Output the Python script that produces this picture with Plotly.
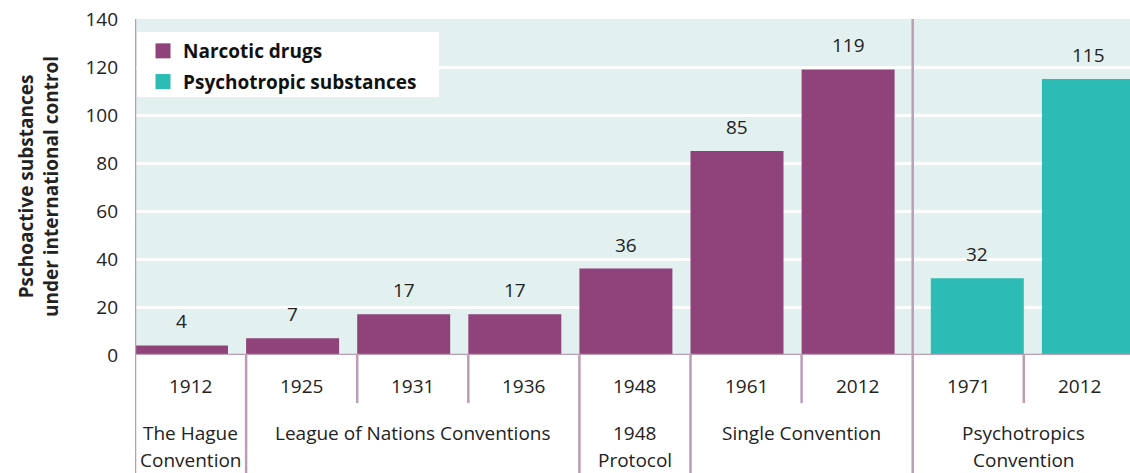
import plotly.graph_objects as go

# ---- data -------------------------------------------------------------
narcotic_years = ["1912", "1925", "1931", "1936", "1948", "1961", "2012"]
narcotic_counts = [4, 7, 17, 17, 36, 85, 119]

psychotropic_years = ["1971", "2012"]
psychotropic_counts = [32, 115]

treaty_names = [
    "The Hague<br>Convention",
    "League of Nations Conventions",
    "1948<br>Protocol",
    "Single Convention",
    "Psychotropics<br>Convention",
]
treaty_slot_counts = [1, 3, 1, 2, 2]

y_ticks = [0, 20, 40, 60, 80, 100, 120, 140]

# ---- styling ----------------------------------------------------------
PURPLE = "#8F437A"
TEAL = "#2CBBB5"
PLOT_BG = "#E2F1F0"
RULE = "#BC9DB6"
INK = "#222222"
FONT = "Open Sans"
FS = 19

W, H = 1130, 473
M_L, M_R, M_T, M_B = 135, 0, 19, 118
PLOT_W = W - M_L - M_R
PLOT_H = H - M_T - M_B
SLOT_PX = 111.1
X_MAX = PLOT_W / SLOT_PX
BAR_W = 93 / SLOT_PX


def paper_y(px):
    """Convert a pixel row of the page into paper y coordinates."""
    return (H - M_B - px) / PLOT_H


def paper_x(px):
    """Convert a pixel column of the page into paper x coordinates."""
    return (px - M_L) / PLOT_W


n_narc = len(narcotic_counts)
narc_slots = list(range(n_narc))
psy_slots = [n_narc + i for i in range(len(psychotropic_counts))]

# narcotic bars sit at the left of their slot, psychotropic at the right
narc_x = [s + BAR_W / 2 for s in narc_slots]
psy_x = [s + 1 - BAR_W / 2 for s in psy_slots]

fig = go.Figure()
fig.add_trace(go.Bar(
    x=narc_x, y=narcotic_counts, width=BAR_W, name="Narcotic drugs",
    marker=dict(color=PURPLE, line=dict(width=0)), showlegend=False,
    hoverinfo="y",
))
fig.add_trace(go.Bar(
    x=psy_x, y=psychotropic_counts, width=BAR_W, name="Psychotropic substances",
    marker=dict(color=TEAL, line=dict(width=0)), showlegend=False,
    hoverinfo="y",
))
# legend entries with square swatches
for name, color, grp in (("Narcotic drugs", PURPLE, "a"),
                         ("Psychotropic substances", TEAL, "b")):
    fig.add_trace(go.Scatter(
        x=[None], y=[None], mode="markers", name=name, legendgroup=grp,
        marker=dict(symbol="square", size=15, color=color, line=dict(width=0)),
    ))

annotations = []
# value labels above bars
for xs, vals in ((narc_x, narcotic_counts), (psy_x, psychotropic_counts)):
    for x, v in zip(xs, vals):
        annotations.append(dict(
            x=x, y=v, xref="x", yref="y", text=str(v), showarrow=False,
            yanchor="bottom", yshift=9, font=dict(family=FONT, size=FS, color=INK),
        ))

# year labels under each slot
for slot, yr in zip(narc_slots + psy_slots, narcotic_years + psychotropic_years):
    annotations.append(dict(
        x=slot + 0.5, y=paper_y(386), xref="x", yref="paper", text=yr,
        showarrow=False, yanchor="middle", font=dict(family=FONT, size=FS, color=INK),
    ))

# treaty labels spanning their slots, plus separator rules
shapes = []
start = 0
boundaries_long = []
boundaries_short = []
for name, count in zip(treaty_names, treaty_slot_counts):
    end = start + count
    centre = (start + end) / 2
    for i, line in enumerate(name.split("<br>")):
        annotations.append(dict(
            x=centre, y=paper_y(433 + 27 * i), xref="x", yref="paper", text=line,
            showarrow=False, yanchor="middle",
            font=dict(family=FONT, size=FS, color=INK),
        ))
    boundaries_long.append(start)
    boundaries_short.extend(range(start + 1, end))
    start = end

# white panel behind the legend
shapes.append(dict(type="rect", xref="paper", yref="paper",
                   x0=paper_x(137), x1=paper_x(439), y0=paper_y(97), y1=paper_y(32),
                   fillcolor="white", line=dict(width=0), layer="above"))

bottom = paper_y(H)
for b in boundaries_long:
    top = 1 if b in (0, n_narc) else 0
    shapes.append(dict(type="line", xref="x", yref="paper", x0=b, x1=b,
                       y0=bottom, y1=top, line=dict(color=RULE, width=2.5), layer="above"))
for b in boundaries_short:
    if b >= X_MAX:
        continue
    shapes.append(dict(type="line", xref="x", yref="paper", x0=b, x1=b,
                       y0=paper_y(403), y1=0, line=dict(color=RULE, width=2.5), layer="above"))
# baseline
shapes.append(dict(type="line", xref="paper", yref="y", x0=0, x1=1, y0=0, y1=0,
                   line=dict(color=RULE, width=2.5), layer="above"))

# y-axis title
annotations.append(dict(
    x=paper_x(38), y=0.5, xref="paper", yref="paper",
    text="<b>Pschoactive substances<br>under international control</b>",
    showarrow=False, textangle=-90, xanchor="center", yanchor="middle",
    font=dict(family=FONT, size=FS, color=INK),
))

fig.update_layout(
    width=W, height=H,
    margin=dict(l=M_L, r=M_R, t=M_T, b=M_B, pad=0),
    paper_bgcolor="white", plot_bgcolor=PLOT_BG,
    font=dict(family=FONT, size=FS, color=INK),
    barmode="overlay",
    showlegend=True,
    legend=dict(
        x=paper_x(143), y=paper_y(32), xanchor="left", yanchor="top",
        bgcolor="rgba(0,0,0,0)", borderwidth=0,
        font=dict(family=FONT, size=FS, color="#111111", weight=700),
        traceorder="grouped", tracegroupgap=3,
    ),
    xaxis=dict(range=[0, X_MAX], showgrid=False, zeroline=False,
               showticklabels=False, fixedrange=True),
    yaxis=dict(range=[0, 140], tickvals=y_ticks, showgrid=True,
               gridcolor="white", gridwidth=2.5, zeroline=False,
               ticks="", ticklabelstandoff=16,
               tickfont=dict(family=FONT, size=FS, color=INK)),
    annotations=annotations,
    shapes=shapes,
)

fig.write_html("out.html")
